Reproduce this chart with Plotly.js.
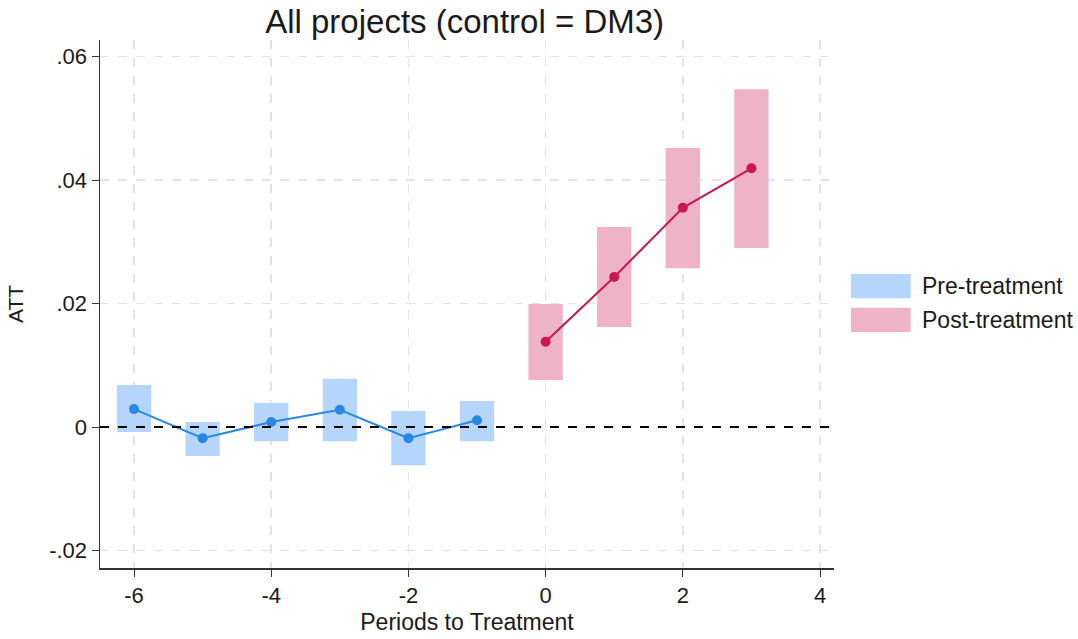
<!DOCTYPE html>
<html><head><meta charset="utf-8">
<script src="https://cdn.plot.ly/plotly-3.0.1.min.js"></script>
<style>html,body{margin:0;padding:0;background:#fff}#c{width:1078px;height:639px}</style>
</head><body><div id="c"></div>
<script>
const preX = [-6, -5, -4, -3, -2, -1];
const preAtt = [0.0029, -0.0018, 0.0008, 0.0028, -0.0018, 0.0011];
const preLo = [-0.0008, -0.0047, -0.0023, -0.0023, -0.0062, -0.0023];
const preHi = [0.0068, 0.0008, 0.0039, 0.0078, 0.0026, 0.0042];
const postX = [0, 1, 2, 3];
const postAtt = [0.0138, 0.0243, 0.0355, 0.0419];
const postLo = [0.0076, 0.0162, 0.0257, 0.0290];
const postHi = [0.0199, 0.0324, 0.0452, 0.0547];
const yTickVals = [-0.02, 0, 0.02, 0.04, 0.06];
const yTickText = ['-.02', '0', '.02', '.04', '.06'];
const xTickVals = [-6, -4, -2, 0, 2, 4];
const xTickText = ['-6', '-4', '-2', '0', '2', '4'];
const legendLabels = ['Pre-treatment', 'Post-treatment'];

const preFill = '#b5d6fa', preLine = '#2a88e4';
const postFill = '#efb3c8', postLine = '#cc1556';
const font = 'Liberation Sans, Arial, sans-serif';
const txt = '#1a1a1a';

const traces = [
  {type:'bar', x:preX, base:preLo, y:preHi.map((h,i)=>h-preLo[i]), width:0.5,
   marker:{color:preFill, line:{width:0}}, showlegend:false, hoverinfo:'skip'},
  {type:'bar', x:postX, base:postLo, y:postHi.map((h,i)=>h-postLo[i]), width:0.5,
   marker:{color:postFill, line:{width:0}}, showlegend:false, hoverinfo:'skip'},
  {type:'scatter', mode:'lines+markers', x:preX, y:preAtt,
   line:{color:preLine, width:2}, marker:{color:preLine, size:10}, showlegend:false},
  {type:'scatter', mode:'lines+markers', x:postX, y:postAtt,
   line:{color:postLine, width:2}, marker:{color:postLine, size:10}, showlegend:false}
];

const shapes = [
  {type:'line', xref:'paper', x0:0, x1:1, yref:'y', y0:0, y1:0,
   line:{color:'#000', width:2, dash:'dash'}, layer:'above'},
  {type:'rect', xref:'paper', yref:'paper', x0:1.023, x1:1.1045, y0:0.511, y1:0.557,
   fillcolor:preFill, line:{width:0}},
  {type:'rect', xref:'paper', yref:'paper', x0:1.023, x1:1.1045, y0:0.447, y1:0.493,
   fillcolor:postFill, line:{width:0}}
];
const annotations = [
  {xref:'paper', yref:'paper', x:1.117, y:0.534, text:legendLabels[0], showarrow:false,
   xanchor:'left', yanchor:'middle', font:{family:font, size:23, color:txt}},
  {xref:'paper', yref:'paper', x:1.117, y:0.470, text:legendLabels[1], showarrow:false,
   xanchor:'left', yanchor:'middle', font:{family:font, size:23, color:txt}}
];

const layout = {
  width:1078, height:639,
  margin:{l:100, r:244, t:40, b:71},
  paper_bgcolor:'#fff', plot_bgcolor:'#fff',
  barmode:'overlay',
  title:{text:'All projects (control = DM3)', x:0.431, xanchor:'center', y:0.966, yanchor:'middle',
         font:{family:font, size:33, color:txt}},
  font:{family:font, color:txt},
  xaxis:{range:[-6.496, 4.204], tickvals:xTickVals, ticktext:xTickText, ticks:'outside', ticklen:7, tickcolor:'#333',
         showline:true, linecolor:'#333', linewidth:1.5, zeroline:false,
         showgrid:true, gridcolor:'#e4e4e4', griddash:'dash', gridwidth:1.5,
         tickfont:{size:22, family:font, color:txt},
         title:{text:'Periods to Treatment', standoff:7, font:{size:23, family:font, color:txt}}},
  yaxis:{range:[-0.02283, 0.06267], tickvals:yTickVals, ticktext:yTickText, ticks:'outside', ticklen:7,
         tickcolor:'#333', showline:true, linecolor:'#333', linewidth:1.5, zeroline:false,
         showgrid:true, gridcolor:'#e4e4e4', griddash:'dash', gridwidth:1.5,
         tickfont:{size:22, family:font, color:txt},
         title:{text:'ATT', standoff:20, font:{size:21, family:font, color:txt}}},
  shapes:shapes, annotations:annotations
};
Plotly.newPlot('c', traces, layout, {displayModeBar:false, staticPlot:true});
</script></body></html>
